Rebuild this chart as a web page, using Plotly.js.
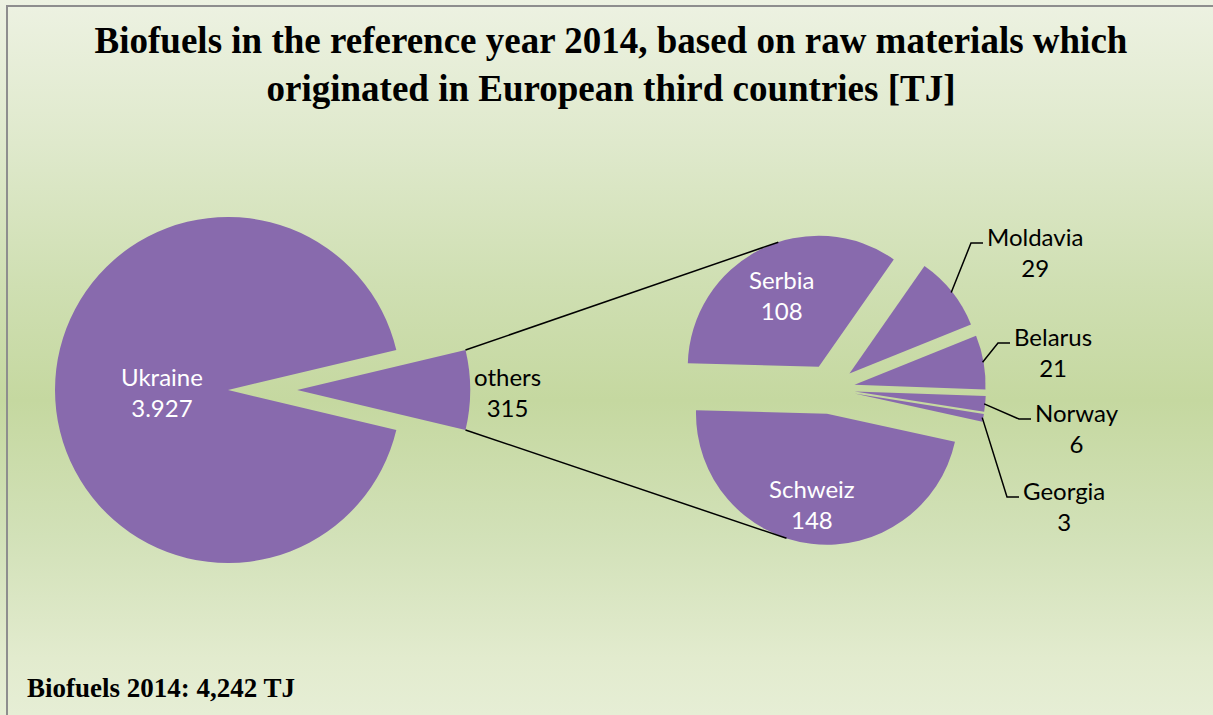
<!DOCTYPE html>
<html><head><meta charset="utf-8">
<script src="https://cdn.plot.ly/plotly-3.0.1.min.js"></script>
<style>
html,body{margin:0;padding:0;width:1213px;height:715px;overflow:hidden;background:#e6eed5;}
#bg{position:absolute;left:0;top:0;width:1213px;height:715px;
 background:linear-gradient(to bottom,#edf2e2 0%,#dfe9cc 20%,#cfdfb2 40%,#c5d8a0 56%,#d2e1b8 75%,#e2ebce 92%,#e6eed5 100%);}
#chart{position:absolute;left:-40px;top:0;}
#frame{position:absolute;left:6px;top:5px;width:1300px;height:800px;border-left:2px solid #8e8e8e;border-top:2px solid #8e8e8e;pointer-events:none;}
</style></head><body>
<div id="bg"></div><div id="chart"></div><div id="frame"></div>
<script>
// ---- data ----
const mainLabels = ['others', 'Ukraine'];
const mainValues = [315, 3927];
const subLabels = ['Serbia', 'Moldavia', 'Belarus', 'Norway', 'Georgia', 'Schweiz'];
const subValues = [108, 29, 21, 6, 3, 148];
const titleText = 'Biofuels in the reference year 2014, based on raw materials which<br>originated in European third countries [TJ]';
const noteLabel = 'Biofuels 2014';
const unitLabel = 'TJ';

// ---- layout geometry (pixels) ----
const OFF = 40, W = 1213 + OFF, H = 715;
const PIE_COLOR = '#886aad';
const LABEL_FONT = 'Lato';
const M = {cx: 228, cy: 390, r: 173, pull: 0.4};
const S = {cx: 830, cy: 389, r: 131, pull: 0.19, rot: -88.5};
const px = x => (x + OFF) / W;
const py = y => 1 - y / H;
function domainOf(g) {
  const half = g.r * (1 + g.pull);
  return {x: [px(g.cx - half), px(g.cx + half)], y: [py(g.cy + half), py(g.cy - half)]};
}
const mainTotal = mainValues.reduce((a, b) => a + b, 0);
const subTotal = subValues.reduce((a, b) => a + b, 0);
const othersHalfDeg = 180 * mainValues[0] / mainTotal;
// number format like the source: thousands separated by "."
const fmt = v => String(v).replace(/\B(?=(\d{3})+(?!\d))/g, '.');

const traces = [
  {
    type: 'pie', labels: mainLabels, values: mainValues, sort: false,
    direction: 'clockwise', rotation: 90 - othersHalfDeg,
    pull: [M.pull, 0], domain: domainOf(M),
    marker: {colors: mainLabels.map(() => PIE_COLOR), line: {width: 0}},
    textinfo: 'none', hoverinfo: 'label+value', showlegend: false
  },
  {
    type: 'pie', labels: subLabels, values: subValues, sort: false,
    direction: 'clockwise', rotation: S.rot,
    pull: subLabels.map(() => S.pull), domain: domainOf(S),
    marker: {colors: subLabels.map(() => PIE_COLOR), line: {width: 0}},
    textinfo: 'none', hoverinfo: 'label+value', showlegend: false
  }
];

const shapes = [];
const annotations = [];
const rad = d => d * Math.PI / 180;

// connector lines from the "others" slice to the secondary pie
const apexX = M.cx + M.pull * M.r, apexY = M.cy;
const c1 = [apexX + M.r * Math.cos(rad(othersHalfDeg)), apexY - M.r * Math.sin(rad(othersHalfDeg))];
const c2 = [apexX + M.r * Math.cos(rad(othersHalfDeg)), apexY + M.r * Math.sin(rad(othersHalfDeg))];
const startDeg = 180 - (S.rot + 90);
let a0 = startDeg; const mids = [];
subValues.forEach(v => { const span = 360 * v / subTotal; mids.push(a0 - span / 2); a0 -= span; });
function arcCenter(i) {
  const m = rad(mids[i]);
  return [S.cx + S.pull * S.r * Math.cos(m), S.cy - S.pull * S.r * Math.sin(m)];
}
function arcPoint(i, deg, rr) {
  const c = arcCenter(i), r = rr || S.r;
  return [c[0] + r * Math.cos(rad(deg)), c[1] - r * Math.sin(rad(deg))];
}
const e1 = arcPoint(0, 108), e2 = arcPoint(5, 252);
[[c1, e1], [c2, e2]].forEach(([a, b]) => shapes.push({type: 'line', xref: 'paper', yref: 'paper',
  x0: px(a[0]), y0: py(a[1]), x1: px(b[0]), y1: py(b[1]), line: {color: '#000', width: 1.5}}));

// data labels placed as in the source chart (block centres, pixels)
function label(x, y, name, value, color, anchor) {
  annotations.push({xref: 'paper', yref: 'paper', x: px(x), y: py(y), xanchor: anchor || 'center', yanchor: 'middle',
    text: `${name}<br>${fmt(value)}`, showarrow: false, align: 'center',
    font: {family: LABEL_FONT, size: 24, color: color}});
}
const inPos = {Ukraine: [162, 392], others: [507, 392], Serbia: [782, 295], Schweiz: [812, 504]};
mainLabels.forEach((n, i) => label(inPos[n][0], inPos[n][1], n, mainValues[i], n === 'others' ? '#000' : '#fff'));
subLabels.forEach((n, i) => { if (inPos[n]) label(inPos[n][0], inPos[n][1], n, subValues[i], '#fff'); });

// outside labels with elbow leader lines for the small slices
const outPos = {Moldavia: [985, 237], Belarus: [1012, 337], Norway: [1033, 413], Georgia: [1021, 491]};
subLabels.forEach((name, i) => {
  if (!outPos[name]) return;
  const [lx, ly] = outPos[name];
  const st = arcPoint(i, mids[i], S.r - 1);
  const hy = ly + 6;
  shapes.push({type: 'path', xref: 'paper', yref: 'paper',
    path: `M ${px(st[0])} ${py(st[1])} L ${px(lx - 14)} ${py(hy)} L ${px(lx - 2)} ${py(hy)}`,
    line: {color: '#000', width: 1.5}});
  label(lx, ly + 15, name, subValues[i], '#000', 'left');
});

const totalStr = mainTotal.toLocaleString('en-US');
annotations.push({xref: 'paper', yref: 'paper', x: px(25), y: py(688), xanchor: 'left', yanchor: 'middle',
  text: `<b>${noteLabel}: ${totalStr} ${unitLabel}</b>`, showarrow: false,
  font: {family: 'Liberation Serif', size: 27, color: '#000'}});

const layout = {
  width: W, height: H, margin: {l: 0, r: 0, t: 0, b: 0},
  paper_bgcolor: 'rgba(0,0,0,0)', plot_bgcolor: 'rgba(0,0,0,0)',
  title: {text: '<b>' + titleText + '</b>', x: px(611), xanchor: 'center', xref: 'paper',
    y: py(53), yref: 'paper', yanchor: 'top',
    font: {family: 'Liberation Serif', size: 37, color: '#000'}},
  shapes: shapes, annotations: annotations, showlegend: false
};
Plotly.newPlot('chart', traces, layout, {staticPlot: true, displayModeBar: false});
</script>
</body></html>
